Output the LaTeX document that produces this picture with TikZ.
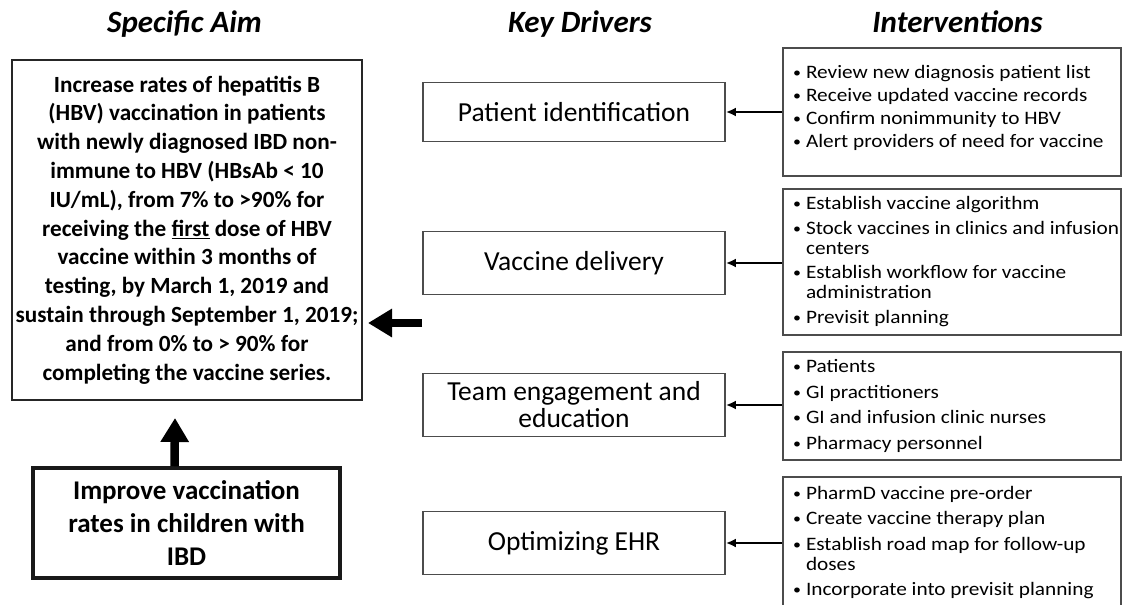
\documentclass[tikz,border=0pt]{standalone}
\usepackage{fontspec}
\setmainfont{Carlito}
\newfontfamily\actfont[FakeStretch=1.12]{Carlito}
\usetikzlibrary{arrows.meta, positioning}

% bulleted line and its continuation, never broken
\newcommand{\ibul}[1]{\mbox{\llap{\raisebox{0.12ex}{\scalebox{0.75}{\textbullet}}\hspace{5pt}}#1}}
\newcommand{\icont}[1]{\mbox{#1}}

\begin{document}
\begin{tikzpicture}[
    x=1pt, y=-1pt,
    heading/.style={
        anchor=base,
        font=\fontsize{31}{34}\selectfont\bfseries\itshape
    },
    aimbox/.style={
        draw=black!85,
        line width=2pt,
        minimum width=350pt,
        minimum height=340pt,
        inner sep=0pt,
        align=flush center,
        font=\fontsize{23.2}{28.8}\selectfont\bfseries
    },
    goalbox/.style={
        draw=black!90,
        line width=3.5pt,
        minimum width=307pt,
        minimum height=110pt,
        inner sep=0pt,
        align=flush center,
        font=\fontsize{27}{33}\selectfont\bfseries
    },
    driver/.style={
        draw=black!70,
        line width=1.8pt,
        minimum width=302pt,
        minimum height=63pt,
        inner sep=0pt,
        align=flush center,
        font=\fontsize{27.5}{27}\selectfont
    },
    action/.style={
        draw=black!70,
        line width=1.8pt,
        text width=292pt,
        inner xsep=23pt,
        inner ysep=0pt,
        align=flush left,
        font=\actfont\fontsize{19}{20}\selectfont
    },
    feed/.style={
        -{Latex[length=10pt,width=9pt]},
        line width=2.5pt
    },
    fat/.style={
        -{Triangle[length=24pt,width=27pt]},
        line width=8.5pt
    }
]

\path[use as bounding box, clip] (0,0) rectangle (1122,605);

% --- COLUMN HEADINGS ------------------------------------------

\node[heading] (aimT) at (184.5,32) {Specific Aim};
\node[heading] (drvT) at (580,32)   {Key Drivers};
\node[heading] (actT) at (957.5,32) {Interventions};

% --- AIM AND GLOBAL GOAL --------------------------------------

\node[aimbox] (aim) at (187,230) {
    Increase rates of hepatitis B\\
    (HBV) vaccination in patients\\
    with newly diagnosed IBD non-\\
    immune to HBV (HBsAb < 10\\
    IU/mL), from 7\% to >90\% for\\
    receiving the \underline{first} dose of HBV\\
    vaccine within 3 months of\\
    testing, by March 1, 2019 and\\
    sustain through September 1, 2019;\\
    and from 0\% to > 90\% for\\
    completing the vaccine series.
};

\node[goalbox] (goal) at (186.5,523) {
    Improve vaccination\\
    rates in children with\\
    IBD
};

% --- KEY DRIVERS ----------------------------------------------

\node[driver, minimum height=59pt] (drv1) at (574,112) {Patient identification};
\node[driver] (drv2) at (574,263) {Vaccine delivery};
\node[driver] (drv3) at (574,405) {Team engagement and\\education};
\node[driver] (drv4) at (574,543) {Optimizing EHR};

% --- INTERVENTIONS --------------------------------------------

\node[action, minimum height=128pt] (act1) at (952,112) {
    \ibul{Review new diagnosis patient list}\\[3pt]
    \ibul{Receive updated vaccine records}\\[3pt]
    \ibul{Confirm nonimmunity to HBV}\\[3pt]
    \ibul{Alert providers of need for vaccine}\rule[-12pt]{0pt}{0pt}
};

\node[action, minimum height=146pt] (act2) at (952,262) {
    \ibul{Establish vaccine algorithm}\\[5pt]
    \ibul{Stock vaccines in clinics and infusion}\\
    \icont{centers}\\[4pt]
    \ibul{Establish workflow for vaccine}\\
    \icont{administration}\\[5pt]
    \ibul{Previsit planning}
};

\node[action, minimum height=108pt] (act3) at (952,406) {
    \ibul{Patients}\\[5.5pt]
    \ibul{GI practitioners}\\[5.5pt]
    \ibul{GI and infusion clinic nurses}\\[5.5pt]
    \ibul{Pharmacy personnel}
};

\node[action, minimum height=132pt] (act4) at (952,543) {
    \ibul{PharmD vaccine pre-order}\\[5pt]
    \ibul{Create vaccine therapy plan}\\[6pt]
    \ibul{Establish road map for follow-up}\\
    \icont{doses}\\[5pt]
    \ibul{Incorporate into previsit planning}
};

% --- INTERVENTIONS FEED THE DRIVERS ---------------------------

\foreach \i in {1,...,4}
    \draw[feed] (act\i.west |- drv\i) -- (drv\i.east);

% --- DRIVERS AND GOAL FEED THE AIM ----------------------------

\coordinate (drvIn) at (422,323);
\draw[fat, line width=8pt] (drvIn) -- ([xshift=5pt]drvIn -| aim.east);

\draw[fat] ([xshift=-12pt]goal.north) -- ([xshift=-12pt,yshift=-17pt]aim.south);

\end{tikzpicture}
\end{document}
